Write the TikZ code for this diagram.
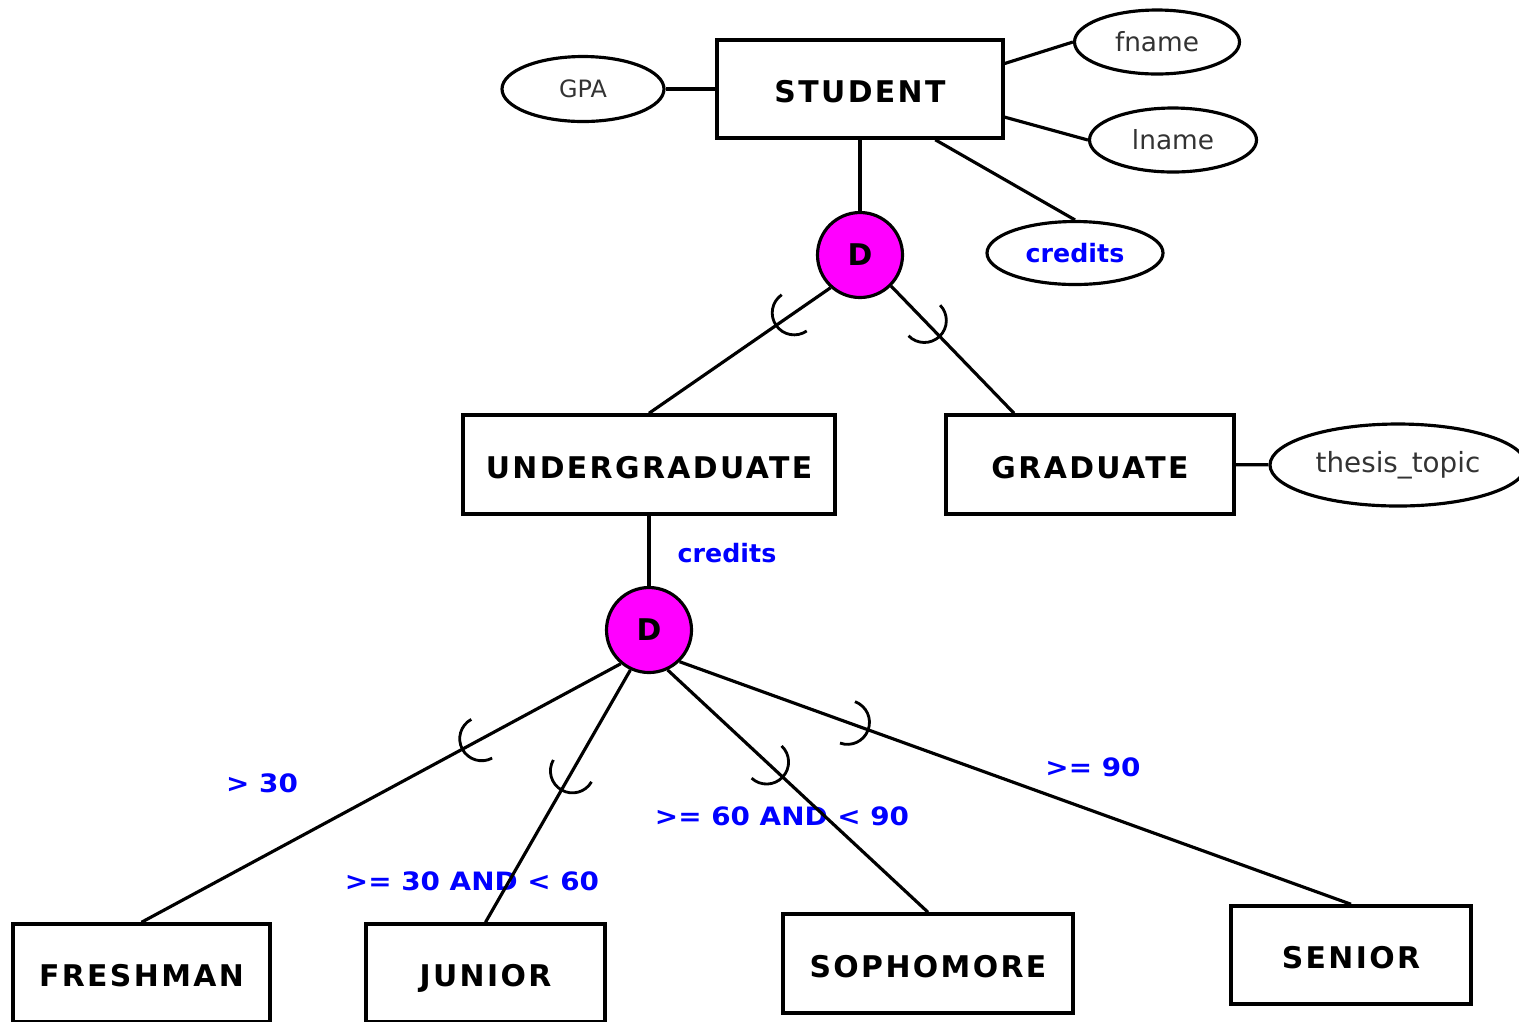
\documentclass[tikz,border=0pt]{standalone}
\usepackage{fontspec}
\setmainfont{DejaVu Sans}
\usetikzlibrary{shapes.geometric}
\definecolor{DisjPink}{HTML}{FF00FF}
\definecolor{CondBlue}{HTML}{0000FF}

\begin{document}
\begin{tikzpicture}[line width=0.9pt,
    ent/.style={draw, line width=1pt, inner sep=0pt, minimum width=#1,
                minimum height=0.98cm, text height=7.9pt, text depth=0pt,
                font=\fontsize{8.5}{10}\selectfont\bfseries\addfontfeature{LetterSpace=8}},
    attr/.style={draw, ellipse, inner sep=0pt, minimum width=#1,
                 minimum height=0.64cm, text=black!80,
                 font=\fontsize{7.5}{9}\selectfont},
    disj/.style={draw, circle, fill=DisjPink, minimum size=0.85cm,
                 inner sep=0pt, font=\fontsize{8.5}{10}\selectfont\bfseries},
    ckey/.style={text=CondBlue, font=\fontsize{7.2}{9}\selectfont\bfseries},
    cond/.style={text=CondBlue,
                 font=\fontsize{7.2}{9}\selectfont\bfseries\addfontfeature{FakeStretch=1.1}},
    pics/subarc/.style={code={
      \draw[line width=0.8pt] (0,0.22) arc[start angle=90, end angle=-90, radius=0.22];}}]
  \useasboundingbox (0,0) rectangle (15.19,-10.21);

  % superclass and its attributes
  \node[ent=2.86cm] (student) at (8.60,-0.89) {STUDENT};
  \node[attr=1.62cm, minimum height=0.65cm, font=\fontsize{6.8}{8}\selectfont]
    (gpa) at (5.83,-0.89) {GPA};
  \node[attr=1.65cm] (fname) at (11.57,-0.42) {fname};
  \node[attr=1.67cm] (lname) at (11.73,-1.40) {lname};
  \node[attr=1.76cm, minimum height=0.63cm, ckey] (credits) at (10.75,-2.53) {credits};
  \node[disj] (d1) at (8.60,-2.55) {D};

  % first level
  \node[ent=3.72cm, minimum height=0.99cm] (ug) at (6.49,-4.645) {UNDERGRADUATE};
  \node[ent=2.88cm, minimum height=0.99cm] (grad) at (10.90,-4.645) {GRADUATE};
  \node[attr=2.56cm, minimum height=0.82cm, font=\fontsize{7.9}{9}\selectfont]
    (thesis) at (13.98,-4.65) {thesis\_topic};
  \node[disj] (d2) at (6.49,-6.30) {D};
  \node[ckey] (ucred) at (7.27,-5.53) {credits};

  % second level
  \node[ent=2.57cm] (fresh) at (1.415,-9.73) {FRESHMAN};
  \node[ent=2.39cm] (junior) at (4.855,-9.73) {JUNIOR};
  \node[ent=2.90cm, minimum height=0.99cm] (soph) at (9.28,-9.635) {SOPHOMORE};
  \node[ent=2.40cm] (senior) at (13.51,-9.55) {SENIOR};
  \node[cond] (c30) at (2.62,-7.83) {> 30};
  \node[cond] (c3060) at (4.72,-8.81) {>= 30 AND < 60};
  \node[cond] (c6090) at (7.82,-8.16) {>= 60 AND < 90};
  \node[cond] (c90) at (10.93,-7.67) {>= 90};

  \draw (gpa.east) -- (student.west);
  \draw (student.10) -- (fname.west);
  \draw (student.349) -- (lname.west);
  \draw (student.326) -- (credits.north);
  \draw (student) -- (d1);
  \draw (d1.228) -- (ug.north) pic[pos=0.2, sloped, allow upside down]{subarc};
  \draw (d1.315) -- (grad.146) pic[pos=0.27, sloped, allow upside down]{subarc};
  \draw (grad) -- (thesis);
  \draw (ug) -- (d2);
  \draw (d2.230) -- (fresh.north) pic[pos=0.29, sloped, allow upside down]{subarc};
  \draw (d2.245) -- (junior.north) pic[pos=0.40, sloped, allow upside down]{subarc};
  \draw (d2.295) -- (soph.north) pic[pos=0.38, sloped, allow upside down]{subarc};
  \draw (d2.314) -- (senior.north) pic[pos=0.25, sloped, allow upside down]{subarc};
\end{tikzpicture}
\end{document}
